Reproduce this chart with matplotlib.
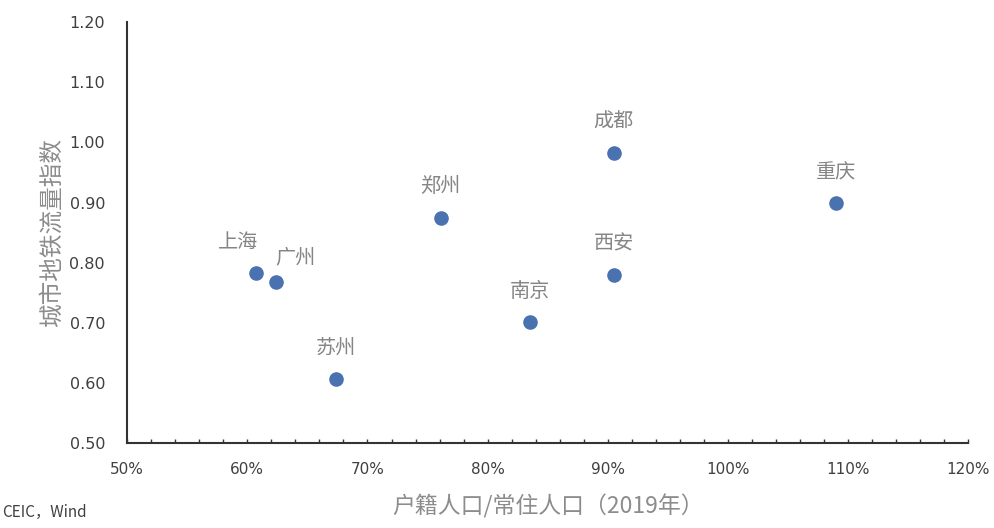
import matplotlib.pyplot as plt
import numpy as np

plt.rcParams['font.family'] = ['DejaVu Sans', 'Noto Sans CJK SC']

cities = ['上海', '广州', '苏州', '郑州', '南京', '成都', '西安', '重庆']
hukou_ratio = [60.7, 62.4, 67.4, 76.1, 83.5, 90.5, 90.5, 109.0]
metro_index = [0.782, 0.768, 0.607, 0.875, 0.702, 0.983, 0.780, 0.899]

# label offsets in points (dx, dy)
offsets = {'上海': (-13, 22), '广州': (14, 17)}

cjk = ['Noto Sans CJK SC', 'DejaVu Sans']

fig = plt.figure(figsize=(9.94, 5.28), dpi=100)
ax = fig.add_axes([0.128, 0.161, 0.846, 0.797])

ax.scatter(hukou_ratio, metro_index, s=90, color='#4a72b0', zorder=3)

for name, x, y in zip(cities, hukou_ratio, metro_index):
    dx, dy = offsets.get(name, (0, 22))
    ax.annotate(name, (x, y), xytext=(dx, dy), textcoords='offset points',
                ha='center', va='center', fontsize=14.5, color='#858585',
                family=cjk, fontweight='light')

ax.set_xlim(50, 120)
ax.set_ylim(0.5, 1.2)
ax.set_xticks(np.arange(50, 121, 2))
ax.set_xticklabels([f'{v}%' if v % 10 == 0 else '' for v in range(50, 121, 2)])
ax.set_yticks(np.arange(0.5, 1.201, 0.1))
ax.set_yticklabels([f'{v:.2f}' for v in np.arange(0.5, 1.201, 0.1)])

ax.tick_params(axis='x', direction='in', length=3, width=1, color='#333333',
               labelsize=11, labelcolor='#404040', pad=14)
ax.tick_params(axis='y', length=0, labelsize=11.5, labelcolor='#404040', pad=16)

for side in ['top', 'right']:
    ax.spines[side].set_visible(False)
for side in ['left', 'bottom']:
    ax.spines[side].set_color('#333333')
    ax.spines[side].set_linewidth(1.5)

ax.set_xlabel('户籍人口/常住人口（2019年）', fontsize=16.5, color='#8c8c8c',
              family=cjk, fontweight='light', labelpad=12)
ax.set_ylabel('城市地铁流量指数', fontsize=17, color='#8c8c8c',
              family=cjk, fontweight='light', labelpad=4)

fig.text(0.002, 0.02, 'CEIC，Wind', fontsize=11, color='#404040', family=cjk)

fig.savefig('out.png', dpi=100)
